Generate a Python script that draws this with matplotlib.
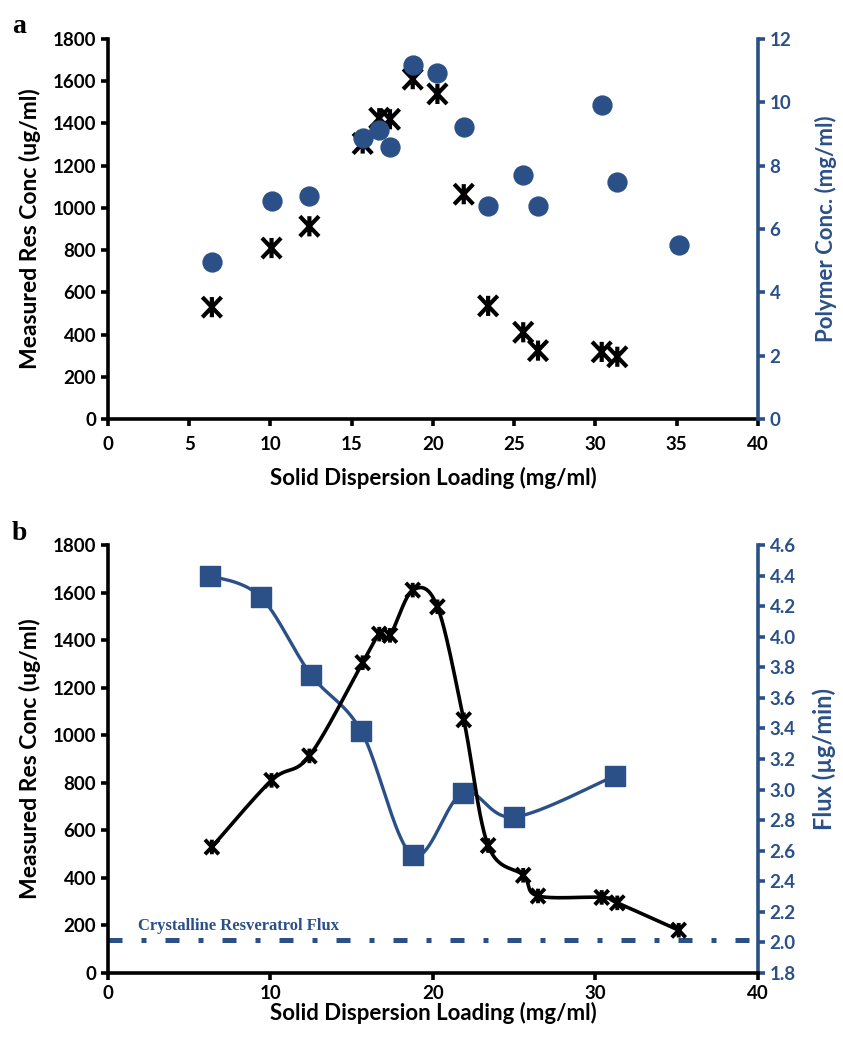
import numpy as np
import matplotlib.pyplot as plt
from matplotlib.path import Path

# data
loading = [6.4, 10.07, 12.4, 15.68, 16.7, 17.36, 18.76, 20.28, 21.9, 23.4, 25.56, 26.47, 30.39, 31.35, 35.13]
res_conc = [530, 810, 913, 1305, 1425, 1420, 1610, 1540, 1065, 536, 411, 324, 318, 295, 180]
polymer_conc = [4.97, 6.89, 7.04, 8.87, 9.13, 8.59, 11.18, 10.94, 9.21, 6.73, 7.71, 6.73, 9.93, 7.47, 5.5]

flux_loading = [6.3, 9.4, 12.5, 15.6, 18.75, 21.86, 25.0, 31.2]
flux = [4.40, 4.26, 3.75, 3.38, 2.57, 2.98, 2.82, 3.09]
crystalline_flux = 2.015

BLUE = "#2A5087"
SANS = "Lato"
SERIF = "Liberation Serif"

plt.rcParams["font.family"] = SANS
plt.rcParams["font.weight"] = "bold"

# excel style star marker: x with a vertical bar
star = Path([(-0.95, -1), (0.95, 1), (-0.95, 1), (0.95, -1), (0, -1), (0, 1)],
            [Path.MOVETO, Path.LINETO, Path.MOVETO, Path.LINETO, Path.MOVETO, Path.LINETO])


def smooth(xs, ys, xspan, yspan, w, h, n=40):
    # excel-like smoothed line (bezier through points, done in pixel space)
    p = np.column_stack([np.array(xs) / xspan[1] * w, (np.array(ys) - yspan[0]) / (yspan[1] - yspan[0]) * h])
    out = []
    for i in range(len(p) - 1):
        p0 = p[max(i - 1, 0)]
        p1 = p[i]
        p2 = p[i + 1]
        p3 = p[min(i + 2, len(p) - 1)]
        c1 = p1 + (p2 - p0) / 6
        c2 = p2 - (p3 - p1) / 6
        t = np.linspace(0, 1, n)[:, None]
        seg = (1 - t) ** 3 * p1 + 3 * (1 - t) ** 2 * t * c1 + 3 * (1 - t) * t ** 2 * c2 + t ** 3 * p2
        out.append(seg)
    out = np.vstack(out)
    return out[:, 0] / w * xspan[1], out[:, 1] / h * (yspan[1] - yspan[0]) + yspan[0]


def style_axes(ax, ax2, xpad):
    for s in ["top", "right"]:
        ax.spines[s].set_visible(False)
    for s in ["top", "left", "bottom"]:
        ax2.spines[s].set_visible(False)
    ax.spines["left"].set_linewidth(2.6)
    ax.spines["bottom"].set_linewidth(2.6)
    ax2.spines["right"].set_linewidth(2.6)
    ax2.spines["right"].set_color(BLUE)
    ax.tick_params(direction="out", width=2.6, length=5, labelsize=13.5, colors="black")
    ax.tick_params(axis="x", pad=xpad)
    ax2.tick_params(direction="out", width=2.6, length=5, labelsize=13.5, colors=BLUE)
    for lab in ax.get_xticklabels() + ax.get_yticklabels() + ax2.get_yticklabels():
        lab.set_fontweight("bold")
    ax.set_xlim(0, 40)


fig = plt.figure(figsize=(8.43, 10.38), dpi=100)

# panel a
ax = fig.add_axes([0.128, 0.5963, 0.771, 0.3661])
ax2 = ax.twinx()
ax.scatter(loading[:-1], res_conc[:-1], marker=star, s=210, facecolor="none",
           edgecolor="black", linewidths=3.0, zorder=3)
ax2.scatter(loading, polymer_conc, s=185, color=BLUE, zorder=4)
ax.set_ylim(0, 1800)
ax.set_yticks(range(0, 1801, 200))
ax.set_xticks(range(0, 41, 5))
ax2.set_ylim(0, 12)
ax2.set_yticks(range(0, 13, 2))
style_axes(ax, ax2, 7)
ax.set_xlabel("Solid Dispersion Loading (mg/ml)", fontsize=16, fontweight="bold", labelpad=10)
ax.set_ylabel("Measured Res Conc (ug/ml)", fontsize=16.5, fontweight="bold", labelpad=8)
ax2.set_ylabel("Polymer Conc. (mg/ml)", fontsize=16, fontweight="bold", color=BLUE, labelpad=17)
# circles above stars
ax2.set_zorder(ax.get_zorder() + 1)
ax2.patch.set_visible(False)

# panel b
bx = fig.add_axes([0.128, 0.0626, 0.771, 0.4124])
bx2 = bx.twinx()
bx.set_ylim(0, 1800)
bx.set_yticks(range(0, 1801, 200))
bx.set_xticks(range(0, 41, 10))
flux_ticks = np.arange(1.8, 4.61, 0.2)
bx2.set_ylim(1.8, 4.6)
bx2.set_yticks(flux_ticks)
bx2.set_yticklabels([f"{v:.1f}" for v in flux_ticks])

sx, sy = smooth(flux_loading, flux, (0, 40), (1.8, 4.6), 650, 428)
bx2.plot(sx, sy, color=BLUE, lw=2.4, zorder=2)
bx2.scatter(flux_loading, flux, marker="s", s=190, color=BLUE, zorder=3)
bx2.plot([0, 40], [crystalline_flux, crystalline_flux], color=BLUE, lw=3.6,
         linestyle=(0, (2.8, 3.8, 1.0, 3.8)), dash_capstyle="butt", zorder=2, clip_on=False)
bx2.text(1.85, 2.08, "Crystalline Resveratrol Flux", family=SERIF, fontsize=12,
         fontweight="bold", color=BLUE, va="baseline")

mx, my = smooth(loading, res_conc, (0, 40), (0, 1800), 650, 428)
bx.plot(mx, my, color="black", lw=2.6, zorder=4)
bx.scatter(loading, res_conc, marker=star, s=110, facecolor="none",
           edgecolor="black", linewidths=2.8, zorder=5)
bx.set_zorder(bx2.get_zorder() + 1)
bx.patch.set_visible(False)
style_axes(bx, bx2, 3.5)
bx.set_xlabel("Solid Dispersion Loading (mg/ml)", fontsize=16, fontweight="bold", labelpad=0)
bx.set_ylabel("Measured Res Conc (ug/ml)", fontsize=16.5, fontweight="bold", labelpad=8)
bx2.set_ylabel("Flux (\u00b5g/min)", fontsize=17, fontweight="bold", color=BLUE, labelpad=12)

fig.text(0.014, 0.968, "a", family=SERIF, fontsize=20, fontweight="bold")
fig.text(0.014, 0.48, "b", family=SERIF, fontsize=20, fontweight="bold")

fig.savefig("out.png", dpi=100)
